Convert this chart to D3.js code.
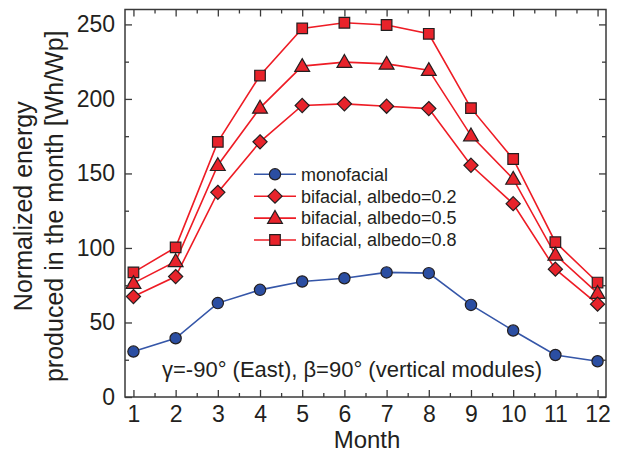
<!DOCTYPE html>
<html><head><meta charset="utf-8">
<script src="https://cdn.jsdelivr.net/npm/d3@7"></script>
<style>
html,body{margin:0;padding:0;background:#fff;}
text{font-family:"Liberation Sans",Arial,Helvetica,sans-serif;fill:#231f20;}
</style></head>
<body>
<svg id="chart" width="622" height="454"></svg>
<script>
const months = [1,2,3,4,5,6,7,8,9,10,11,12];
const monofacial = [30.5,39.4,63,71.9,77.5,79.7,83.6,83.1,61.8,44.6,28.2,24];
const bifacial02 = [67.4,80.8,137.3,171.2,195.6,196.7,195.1,193.5,155.5,129.7,85.8,62.3];
const bifacial05 = [76.4,91,155.5,194,222,224.7,223.5,219.3,175.4,146.3,95.4,69.7];
const bifacial08 = [83.6,100.4,171.2,215.7,247.3,251.1,249.6,243.7,193.8,159.7,103.9,76.8];
const seriesNames = ["monofacial","bifacial, albedo=0.2","bifacial, albedo=0.5","bifacial, albedo=0.8"];
const xTicks = [1,2,3,4,5,6,7,8,9,10,11,12];
const yTicks = [0,50,100,150,200,250];
const xLabel = "Month";
const yLabelLines = ["Normalized energy","produced in the month [Wh/Wp]"];
const annotation = "\u03b3=-90\u00b0 (East), \u03b2=90\u00b0 (vertical modules)";

const svg = d3.select("#chart");
const L = 125, R = 606, T = 9.5, B = 397;
const x = d3.scaleLinear().domain([0.8,12.2]).range([L,R]);
const y = d3.scaleLinear().domain([0,260]).range([B,T]);
const axisColor = "#3a3a3a";

const symbolSqDiamond = {
  draw(ctx, size){
    const h = Math.sqrt(size/2);
    ctx.moveTo(0,-h); ctx.lineTo(h,0); ctx.lineTo(0,h); ctx.lineTo(-h,0); ctx.closePath();
  }
};

const series = [
  {name:seriesNames[0], vals:monofacial, line:"#3556a8", fill:"#2b4ea2", sym:d3.symbolCircle, size:100, dy:0},
  {name:seriesNames[1], vals:bifacial02, line:"#ee1c25", fill:"#e8232b", sym:symbolSqDiamond, size:100, dy:0},
  {name:seriesNames[2], vals:bifacial05, line:"#ee1c25", fill:"#e8232b", sym:d3.symbolTriangle, size:95, dy:1},
  {name:seriesNames[3], vals:bifacial08, line:"#ee1c25", fill:"#e8232b", sym:d3.symbolSquare, size:112, dy:0}
];

const lineGen = d3.line().x((d,i)=>x(months[i])).y(d=>y(d));
series.slice().reverse().forEach(s=>{
  svg.append("path").datum(s.vals).attr("d",lineGen)
    .attr("fill","none").attr("stroke",s.line).attr("stroke-width",1.6);
});
series.slice().reverse().forEach(s=>{
  const sym = d3.symbol().type(s.sym).size(s.size);
  svg.append("g").selectAll("path").data(s.vals).join("path")
    .attr("d",sym)
    .attr("transform",(d,i)=>`translate(${x(months[i])},${y(d)+s.dy})`)
    .attr("fill",s.fill).attr("stroke","#231f20").attr("stroke-width",1.2);
});

const minorX = d3.range(1.5,12,1);
const minorY = [25,75,125,175,225];
const gx = svg.append("g").attr("transform",`translate(0,${B})`)
  .call(d3.axisBottom(x).tickValues(xTicks).tickSize(-7).tickPadding(9).tickFormat(d3.format("d")));
const gxMinor = svg.append("g").attr("transform",`translate(0,${B})`)
  .call(d3.axisBottom(x).tickValues(minorX).tickSize(-4).tickFormat(""));
const gxTop = svg.append("g").attr("transform",`translate(0,${T})`)
  .call(d3.axisTop(x).tickValues(xTicks).tickSize(-7).tickFormat(""));
const gxTopMinor = svg.append("g").attr("transform",`translate(0,${T})`)
  .call(d3.axisTop(x).tickValues(minorX).tickSize(-4).tickFormat(""));
const gy = svg.append("g").attr("transform",`translate(${L},0)`)
  .call(d3.axisLeft(y).tickValues(yTicks).tickSize(-7).tickPadding(10));
const gyMinor = svg.append("g").attr("transform",`translate(${L},0)`)
  .call(d3.axisLeft(y).tickValues(minorY).tickSize(-4).tickFormat(""));
const gyR = svg.append("g").attr("transform",`translate(${R},0)`)
  .call(d3.axisRight(y).tickValues(yTicks).tickSize(-7).tickFormat(""));
const gyRMinor = svg.append("g").attr("transform",`translate(${R},0)`)
  .call(d3.axisRight(y).tickValues(minorY).tickSize(-4).tickFormat(""));
[gx,gxMinor,gxTop,gxTopMinor,gy,gyMinor,gyR,gyRMinor].forEach(g=>{
  g.select(".domain").remove();
  g.selectAll(".tick line").attr("stroke",axisColor).attr("stroke-width",1.3);
});
svg.append("rect").attr("x",L).attr("y",T).attr("width",R-L).attr("height",B-T)
  .attr("fill","none").attr("stroke",axisColor).attr("stroke-width",1.5);

[gx,gy].forEach(g=>g.selectAll(".tick text").attr("font-size",23).attr("fill","#231f20")
  .attr("font-family","Liberation Sans, Arial, sans-serif"));

svg.append("text").attr("x",367).attr("y",447.5).attr("text-anchor","middle")
  .attr("font-size",24).text(xLabel);
const yl = svg.append("text").attr("transform",`translate(32,${(T+B)/2+3}) rotate(-90)`)
  .attr("text-anchor","middle").attr("font-size",25);
yl.append("tspan").attr("x",0).attr("dy",0).text(yLabelLines[0]);
yl.append("tspan").attr("x",0).attr("dy",31).text(yLabelLines[1]);

svg.append("text").attr("x",352).attr("y",377).attr("text-anchor","middle")
  .attr("font-size",22).text(annotation);

const ly0 = 174.3, ldy = 21.9;
series.forEach((s,i)=>{
  const yy = ly0 + i*ldy;
  svg.append("line").attr("x1",254).attr("x2",296).attr("y1",yy).attr("y2",yy)
    .attr("stroke",s.line).attr("stroke-width",1.6);
  svg.append("path").attr("d",d3.symbol().type(s.sym).size(s.size)())
    .attr("transform",`translate(275,${yy+s.dy})`)
    .attr("fill",s.fill).attr("stroke","#231f20").attr("stroke-width",1.2);
  svg.append("text").attr("x",301).attr("y",yy).attr("dy","0.35em")
    .attr("font-size",18).text(s.name);
});
</script>
</body></html>
